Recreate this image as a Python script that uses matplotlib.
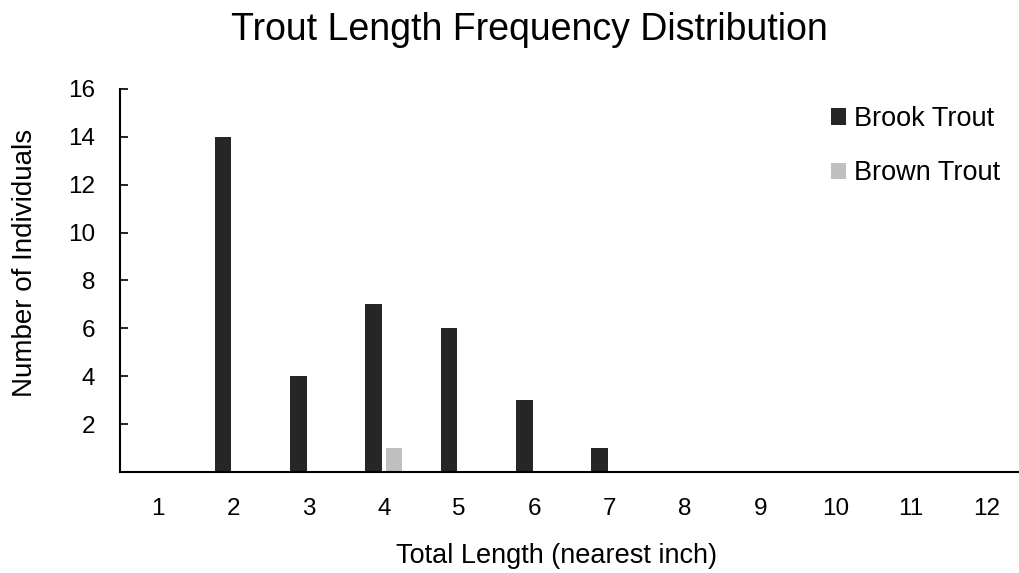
import numpy as np
import matplotlib
matplotlib.use("Agg")
import matplotlib.pyplot as plt

plt.rcParams['font.family'] = ['Liberation Sans', 'DejaVu Sans']

lengths = [1, 2, 3, 4, 5, 6, 7, 8, 9, 10, 11, 12]
brook = [0, 14, 4, 7, 6, 3, 1, 0, 0, 0, 0, 0]
brown = [0, 0, 0, 1, 0, 0, 0, 0, 0, 0, 0, 0]

fig = plt.figure(figsize=(10.19, 5.73), dpi=100)
ax = fig.add_axes([0.1178, 0.1763, 0.8822, 0.6684])

x = np.array(lengths)
w = 0.22
ax.bar(x - 0.135, brook, width=w, color='#262626', label='Brook Trout')
ax.bar(x + 0.135, brown, width=w, color='#bfbfbf', label='Brown Trout')

ax.set_xlim(0.5, 12.43)
ax.set_ylim(0, 16)
ax.set_xticks(x)
ax.set_xticklabels([str(v) for v in lengths])
ax.set_yticks(range(2, 17, 2))
ax.tick_params(axis='x', length=0, labelsize=17.5, pad=19)
ax.tick_params(axis='y', direction='in', length=6, width=1.2, labelsize=17.5, pad=18)
for s in ['top', 'right']:
    ax.spines[s].set_visible(False)
ax.spines['left'].set_linewidth(1.5)
ax.spines['bottom'].set_linewidth(1.5)

fig.text(529 / 1019, 1 - 30 / 573, 'Trout Length Frequency Distribution', ha='center', va='center', fontsize=27)
fig.text(557 / 1019, 1 - 556 / 573, 'Total Length (nearest inch)', ha='center', va='center', fontsize=19.5)
fig.text(25 / 1019, 1 - 263 / 573, 'Number of Individuals', ha='center', va='center', rotation=90, fontsize=20)

ax.legend(loc='upper left', bbox_to_anchor=(812 / 1019, 1 - 87 / 573), bbox_transform=fig.transFigure,
          frameon=False, fontsize=19.5, handlelength=0.55, handleheight=0.55, handletextpad=0.3,
          labelspacing=1.05, borderpad=0.2)

fig.savefig('out.png', dpi=100)
